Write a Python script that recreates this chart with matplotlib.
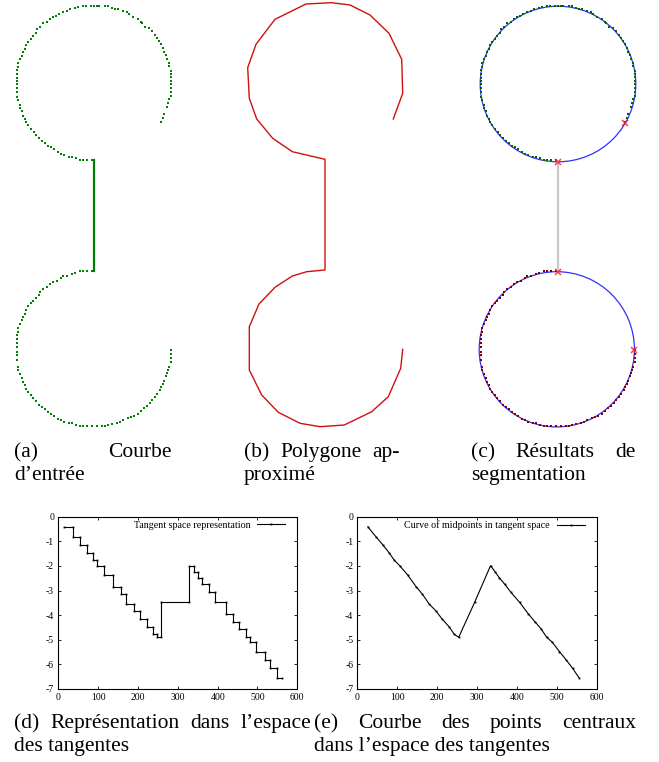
import numpy as np
import matplotlib
matplotlib.use('Agg')
import matplotlib.pyplot as plt
from matplotlib.patches import Circle

plt.rcParams['font.family'] = ['Liberation Serif', 'DejaVu Serif']
plt.rcParams['axes.unicode_minus'] = False

# courbe d'entrée (unités pixel du panneau a, y vers le bas)
top_x = [161.0, 163.0, 164.0, 166.7, 168.3, 169.0, 170.7, 170.7, 170.7, 170.7, 170.7, 170.7, 170.7, 170.7,
         169.0, 169.0, 166.7, 165.7, 164.0, 163.0, 160.7, 159.0, 156.7, 155.0, 152.3, 149.0, 145.0, 141.7,
         140.7, 137.7, 133.0, 129.0, 126.7, 122.7, 118.3, 115.3, 111.7, 107.7, 104.7, 98.7, 96.7, 93.7, 91.3,
         85.7, 82.7, 77.7, 74.7, 69.7, 66.7, 63.3, 58.7, 55.7, 53.0, 49.7, 46.7, 43.0, 40.0, 37.0, 36.3, 32.7,
         31.0, 28.3, 26.0, 24.7, 22.7, 22.0, 20.0, 18.0, 18.0, 16.7, 16.7, 16.7, 16.7, 16.7, 16.7, 16.7, 16.7,
         18.0, 20.0, 19.7, 21.7, 23.0, 24.7, 26.0, 28.3, 30.7, 33.7, 35.7, 38.7, 42.0, 45.0, 48.0, 50.7, 54.0,
         57.7, 60.7, 64.0, 68.7, 71.7, 76.0, 80.0, 83.3, 86.7, 91.7]
top_y = [122.0, 117.7, 113.7, 106.7, 102.7, 99.3, 96.0, 92.0, 88.3, 84.3, 81.0, 77.0, 73.7, 70.7,
         65.7, 62.7, 58.7, 55.0, 51.7, 48.3, 44.0, 40.7, 37.7, 35.0, 31.0, 28.0, 26.7, 22.7,
         21.7, 18.7, 16.7, 14.0, 12.0, 10.7, 9.0, 8.7, 7.7, 5.7, 5.7, 5.7, 5.7, 5.7, 5.7,
         5.7, 6.0, 7.3, 7.7, 9.0, 10.7, 12.0, 14.0, 15.7, 17.0, 19.0, 22.0, 23.0, 26.7, 29.3, 32.7, 36.0,
         39.0, 42.0, 44.7, 48.7, 51.7, 55.7, 59.3, 62.7, 66.7, 70.3, 74.0, 77.7, 81.0, 84.0, 88.3, 92.0, 96.7,
         99.7, 105.0, 107.7, 110.7, 115.7, 118.7, 122.3, 125.0, 128.7, 132.3, 135.0, 138.0, 141.0, 143.0, 146.0,
         146.7, 149.0, 151.7, 154.0, 155.0, 156.7, 156.7, 157.7, 159.7, 159.7, 159.7, 160.0]
bot_x = [91.7, 86.7, 83.3, 80.0, 74.7, 71.7, 66.7, 63.3, 60.7, 57.3, 53.3, 50.0, 46.7, 43.0, 40.0, 39.0,
         36.0, 33.3, 31.0, 28.3, 26.0, 24.7, 22.7, 22.0, 20.0, 18.0, 18.0, 16.7, 16.7, 16.7, 16.7, 16.7,
         16.7, 16.7, 18.0, 18.0, 20.0, 22.0, 22.7, 24.7, 26.0, 28.3, 31.0, 33.3, 35.7, 38.7, 42.0, 45.0,
         48.0, 50.7, 54.0, 57.7, 60.7, 64.0, 68.7, 71.7, 76.0, 80.0, 83.3, 86.7, 91.7, 96.7, 101.7, 104.7,
         107.7, 112.0, 116.7, 119.7, 123.3, 127.7, 130.7, 134.0, 137.7, 141.0, 144.0, 147.0, 149.7, 152.0,
         155.0, 157.3, 159.7, 161.3, 163.3, 164.0, 165.7, 166.7, 168.0, 169.0, 170.7, 170.7, 170.7, 170.7]
bot_y = [271.0, 271.0, 271.0, 271.0, 272.7, 274.0, 275.7, 276.0, 278.3, 281.0, 282.0, 284.0, 286.7, 288.7,
         292.0, 295.0, 297.7, 300.7, 303.3, 305.7, 310.0, 314.0, 317.0, 320.0, 324.3, 328.3, 332.0, 335.3,
         339.3, 343.3, 347.3, 351.7, 355.3, 360.0, 366.7, 370.0, 374.0, 377.7, 381.7, 385.3, 389.0, 392.0,
         395.3, 398.3, 401.0, 404.7, 406.7, 409.0, 412.0, 414.3, 416.0, 419.0, 420.0, 422.0, 422.7, 423.3,
         425.0, 426.0, 426.0, 426.0, 426.0, 426.0, 425.7, 425.7, 424.7, 424.3, 423.3, 422.0, 420.0, 418.3,
         417.0, 416.0, 413.7, 411.0, 408.0, 406.3, 402.7, 399.7, 397.3, 394.3, 390.0, 386.7, 383.7, 381.0,
         376.3, 372.7, 370.0, 366.7, 361.7, 358.3, 354.0, 350.0]
link_x = [93.7, 93.7]
link_y = [160.0, 271.0]

# polygone approximé
poly_x = [162.3, 171.7, 170.7, 158.0, 139.0, 119.0, 100.7, 75.0, 44.0, 25.0, 16.7, 18.3, 25.7, 41.7, 61.3,
          94.0, 94.0, 75.7, 61.3, 44.0, 28.0, 18.3, 18.3, 30.7, 47.3, 69.0, 89.0, 113.3, 140.7, 157.3,
          169.7, 171.7]
poly_y = [119.0, 93.3, 59.3, 33.3, 15.0, 5.0, 2.7, 4.0, 19.3, 44.3, 67.7, 98.3, 119.0, 138.3, 151.7,
          159.3, 270.0, 271.7, 276.0, 287.3, 304.0, 326.7, 370.0, 395.0, 412.3, 423.3, 426.7, 425.0, 411.7,
          396.7, 368.3, 349.3]

# segmentation : arcs de cercle et points de coupure
circ_cx = [94.0, 92.8]
circ_cy = [84.0, 349.3]
circ_r = [77.8, 77.6]
cut_x = [93.7, 161.0, 93.7, 170.3]
cut_y = [162.3, 123.3, 271.7, 350.0]
seg_link_y = [162.3, 271.7]

# espace des tangentes
tan_x = [15, 38, 38, 55, 55, 73, 73, 86, 86, 98, 98, 115, 115, 137, 137, 157, 157, 170, 170, 190,
         190, 204, 204, 222, 222, 237, 237, 249, 249, 258, 258, 329, 329, 340, 340, 350, 350, 362,
         362, 378, 378, 393, 393, 421, 421, 438, 438, 453, 453, 470, 470, 481, 481, 497, 497, 518,
         518, 531, 531, 550, 550, 562]
tan_y = [-0.41, -0.41, -0.81, -0.81, -1.15, -1.15, -1.46, -1.46, -1.76, -1.76, -1.99, -1.99,
         -2.37, -2.37, -2.84, -2.84, -3.15, -3.15, -3.55, -3.55, -3.83, -3.83, -4.17, -4.17,
         -4.47, -4.47, -4.78, -4.78, -4.90, -4.90, -3.48, -3.48, -1.99, -1.99, -2.23, -2.23,
         -2.48, -2.48, -2.75, -2.75, -3.07, -3.07, -3.48, -3.48, -3.95, -3.95, -4.26, -4.26,
         -4.56, -4.56, -4.90, -4.90, -5.10, -5.10, -5.48, -5.48, -5.82, -5.82, -6.16, -6.16,
         -6.54, -6.54]
mid_x = [26, 46, 64, 79, 92, 106, 126, 147, 163, 180, 197, 213, 230, 243, 254, 294, 334, 345, 356,
         370, 385, 407, 429, 445, 461, 475, 489, 507, 524, 540, 556]
mid_y = [-0.41, -0.81, -1.15, -1.46, -1.76, -1.99, -2.37, -2.84, -3.15, -3.55, -3.83, -4.17, -4.47,
         -4.78, -4.90, -3.48, -1.99, -2.23, -2.48, -2.75, -3.07, -3.48, -3.95, -4.26, -4.56, -4.90,
         -5.10, -5.48, -5.82, -6.16, -6.54]

W, H = 659, 762
fig = plt.figure(figsize=(W / 100, H / 100), dpi=100)


def box(left, top, w, h):
    return [left / W, 1 - (top + h) / H, w / W, h / H]


def shape_ax(left):
    ax = fig.add_axes(box(left, 0, 195, 435))
    ax.set_xlim(0, 195)
    ax.set_ylim(435, 0)
    ax.axis('off')
    return ax


# (a)
ax = shape_ax(0)
ax.plot(top_x, top_y, 's', color='#008000', ms=1.8, mew=0)
ax.plot(bot_x, bot_y, 's', color='#008000', ms=1.8, mew=0)
ax.plot(link_x, link_y, color='#008000', lw=1.6)

# (b)
ax = shape_ax(231)
ax.plot(poly_x, poly_y, color='#d01010', lw=1.0)

# (c)
ax = shape_ax(464)
ax.plot(link_x, seg_link_y, color='#c8c8c8', lw=1.6)
ax.plot(top_x, top_y, 's', color='#006400', ms=1.7, mew=0)
ax.plot(bot_x, bot_y, 's', color='#800000', ms=1.7, mew=0)
for cx, cy, r in zip(circ_cx, circ_cy, circ_r):
    ax.add_patch(Circle((cx, cy), r, fill=False, ec='#3030ff', lw=0.9))
ax.plot(cut_x, cut_y, 'x', color='#ff2020', ms=5, mew=1.1, alpha=0.85)


def tangent_ax(left, x, y, label):
    ax = fig.add_axes(box(left, 516.7, 239, 172.3))
    ax.plot(x, y, color='black', lw=0.8, marker='s', ms=1.3, mew=0, label=label)
    ax.set_xlim(0, 600)
    ax.set_ylim(-7, 0)
    ax.set_xticks(range(0, 601, 100))
    ax.set_yticks(range(-7, 1))
    ax.tick_params(direction='in', top=True, right=True, length=2.5, width=0.6,
                   labelsize=7, pad=3)
    for s in ax.spines.values():
        s.set_linewidth(0.8)
    ax.legend(loc='upper right', frameon=False, markerfirst=False, fontsize=7.2,
              handlelength=2.8, handletextpad=0.7, borderaxespad=0,
              bbox_to_anchor=(1 - 8 / 239, 1.0))
    return ax


tangent_ax(58.3, tan_x, tan_y, 'Tangent space representation')
tangent_ax(357.5, mid_x, mid_y, 'Curve of midpoints in tangent space')

# légendes des sous-figures
renderer = fig.canvas.get_renderer()
FS = 15.5


def line(words, x0, y, x1=None):
    texts = [fig.text(0, 1 - y / H, w, fontsize=FS, va='baseline') for w in words]
    if x1 is None or len(words) == 1:
        texts[0].set_x(x0 / W)
        return
    widths = [t.get_window_extent(renderer).width for t in texts]
    gap = (x1 - x0 - sum(widths)) / (len(words) - 1)
    x = x0
    for t, wd in zip(texts, widths):
        t.set_x(x / W)
        x += wd + gap


line(['(a)', 'Courbe'], 14, 457, 172)
line(['d’entrée'], 14, 480)
line(['(b)', 'Polygone', 'ap-'], 244, 457, 400)
line(['proximé'], 244, 480)
line(['(c)', 'Résultats', 'de'], 471, 457, 636)
line(['segmentation'], 471, 480)
line(['(d)', 'Représentation', 'dans', 'l’espace'], 14, 728, 311)
line(['des tangentes'], 14, 751)
line(['(e)', 'Courbe', 'des', 'points', 'centraux'], 314, 728, 636)
line(['dans l’espace des tangentes'], 314, 751)

fig.savefig('out.png', dpi=100)
